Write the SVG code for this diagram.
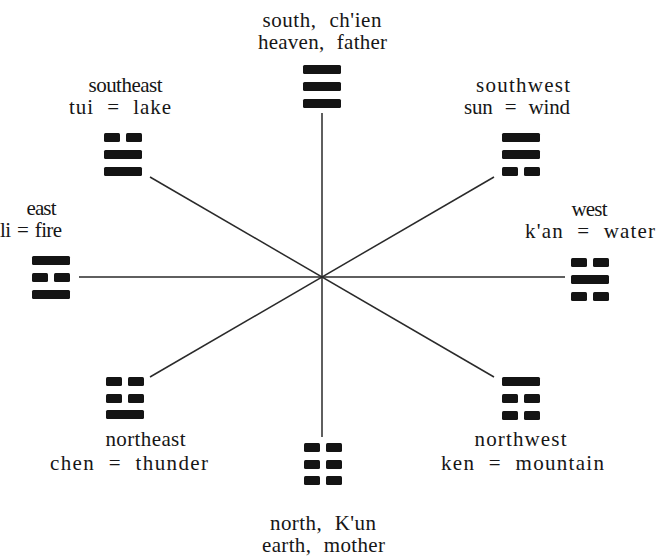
<svg xmlns="http://www.w3.org/2000/svg" width="656" height="560" viewBox="0 0 656 560">
<defs>
<style>
.bg{fill:#ffffff}
.ln{stroke:#2a2a2a;stroke-width:1.5;fill:none}
.bar{fill:#141414}
.t{font-family:"Liberation Serif","Times New Roman",serif;font-size:21px;fill:#161616;text-anchor:middle;word-spacing:7px}
</style>
<rect id="solid" class="bar" x="0" y="0" width="38" height="9" rx="1.5"/>
<g id="broken"><rect class="bar" x="0" y="0" width="16" height="9" rx="1.5"/><rect class="bar" x="22" y="0" width="16" height="9" rx="1.5"/></g>
</defs>
<rect class="bg" x="0" y="0" width="656" height="560"/>
<g id="connectors">
<line class="ln" x1="322" y1="113" x2="322" y2="437"/>
<line class="ln" x1="79" y1="277" x2="565" y2="277"/>
<line class="ln" x1="150" y1="177" x2="494" y2="377"/>
<line class="ln" x1="150" y1="377" x2="494" y2="177"/>
</g>
<g id="south">
<text class="t" x="322" y="26.5" textLength="119">south, ch'ien</text>
<text class="t" x="322.5" y="48.5" textLength="129">heaven, father</text>
<use href="#solid" x="303" y="65"/><use href="#solid" x="303" y="82"/><use href="#solid" x="303" y="99"/>
</g>
<g id="southeast">
<text class="t" x="125.5" y="91.5" textLength="74">southeast</text>
<text class="t" x="120" y="113.5" textLength="102">tui = lake</text>
<use href="#broken" x="104" y="133"/><use href="#solid" x="104" y="150"/><use href="#solid" x="104" y="167"/>
</g>
<g id="southwest">
<text class="t" x="523" y="91.5" textLength="94">southwest</text>
<text class="t" x="517" y="113.5" textLength="106">sun = wind</text>
<use href="#solid" x="502" y="133"/><use href="#solid" x="502" y="150"/><use href="#broken" x="502" y="167"/>
</g>
<g id="east">
<text class="t" x="41.5" y="215" textLength="30">east</text>
<text class="t" x="31" y="237" textLength="62" style="word-spacing:2px">li = fire</text>
<use href="#solid" x="32" y="256"/><use href="#broken" x="32" y="273"/><use href="#solid" x="32" y="290"/>
</g>
<g id="west">
<text class="t" x="589.5" y="216" textLength="36">west</text>
<text class="t" x="590" y="238" textLength="130">k'an = water</text>
<use href="#broken" x="571" y="258"/><use href="#solid" x="571" y="275"/><use href="#broken" x="571" y="292"/>
</g>
<g id="northeast">
<use href="#broken" x="106" y="377"/><use href="#broken" x="106" y="394"/><use href="#solid" x="106" y="410"/>
<text class="t" x="145.5" y="446" textLength="80">northeast</text>
<text class="t" x="129" y="470" textLength="158">chen = thunder</text>
</g>
<g id="northwest">
<use href="#solid" x="502" y="377"/><use href="#broken" x="502" y="394"/><use href="#broken" x="502" y="411"/>
<text class="t" x="520.5" y="446" textLength="92">northwest</text>
<text class="t" x="522.5" y="470" textLength="163">ken = mountain</text>
</g>
<g id="north">
<use href="#broken" x="304" y="443"/><use href="#broken" x="304" y="460"/><use href="#broken" x="304" y="476"/>
<text class="t" x="323" y="530" textLength="106">north, K'un</text>
<text class="t" x="323.5" y="552" textLength="123">earth, mother</text>
</g>
</svg>
